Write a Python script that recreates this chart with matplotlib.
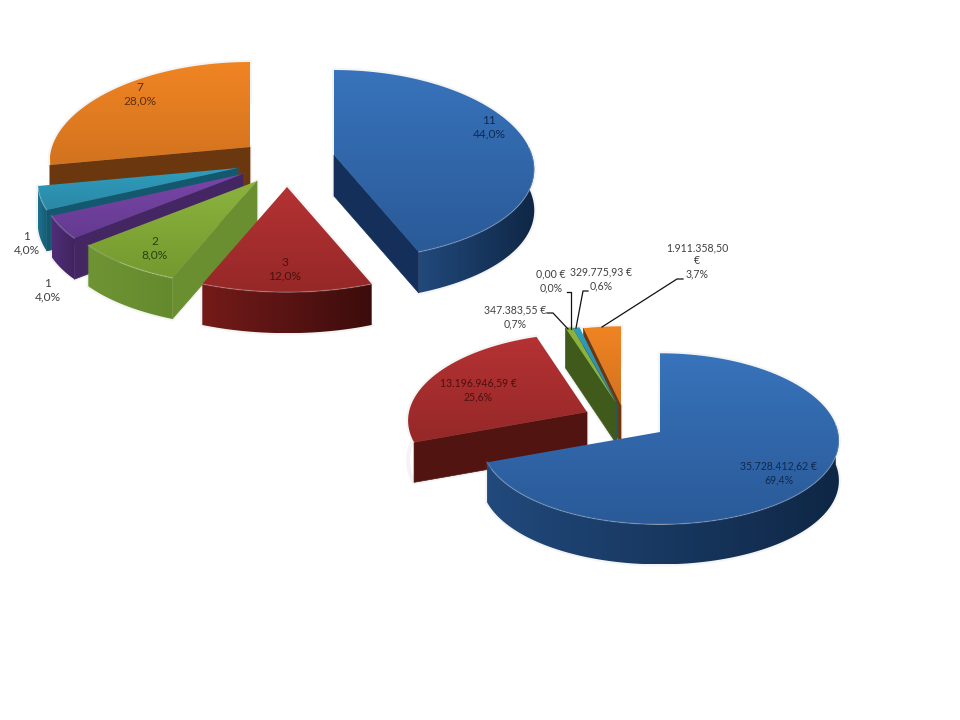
import numpy as np
import matplotlib
matplotlib.use("Agg")
import matplotlib.pyplot as plt
from matplotlib.colors import LinearSegmentedColormap
from matplotlib.patches import Polygon

plt.rcParams["font.family"] = ["Lato", "DejaVu Sans"]

# --- data -------------------------------------------------------------------
count_values = [11, 3, 2, 1, 1, 7]
count_labels = ["11\n44,0%", "3\n12,0%", "2\n8,0%", "1\n4,0%", "1\n4,0%", "7\n28,0%"]

amount_values = [35728412.62, 13196946.59, 347383.55, 0.00, 329775.93, 1911358.50]
amount_labels = ["35.728.412,62 €\n69,4%", "13.196.946,59 €\n25,6%", "347.383,55 €\n0,7%",
                 "0,00 €\n0,0%", "329.775,93 €\n0,6%", "1.911.358,50\n€\n3,7%"]

# --- styling, one row per slice: top light/dark, wall light/dark, cut face ---
BLUE = ("#3873bb", "#2a5a98", "#21497b", "#0f2746", "#14305a")
RED = ("#b53233", "#962828", "#741b19", "#3c0c0c", "#521410")
GREEN = ("#8cb23d", "#749a30", "#6f9434", "#648a2e", "#6a8f30")
PURPLE = ("#7a46a8", "#643a90", "#4f2d78", "#40245f", "#432662")
TEAL = ("#2f9dbc", "#2a88a6", "#1d7490", "#155a73", "#14586f")
ORANGE = ("#f08423", "#d3731f", "#7a4012", "#5e300c", "#6b370f")
OLIVE = ("#8cb23d", "#8cb23d", "#41591b", "#3a5018", "#3f5a1a")

count_styles = [BLUE, RED, GREEN, PURPLE, TEAL, ORANGE]
amount_styles = [BLUE, RED, OLIVE, OLIVE, TEAL, ORANGE]
text_colors = {BLUE: "#0f2a50", RED: "#4d1010", GREEN: "#2c3f10", ORANGE: "#5a3010"}

# layout of the two pies, in pixels
COUNT_APEX = [(334, 155), (287, 187), (257, 181), (243, 174), (238, 168), (250, 147)]
AMOUNT_APEX = [(660, 432), (587, 412), (616, 403), (616, 403), (617, 404), (621, 405)]
COUNT_PIE = dict(rx=198, ry=94, k=0.106, kx=0.15, depth=41, wall_end=262)
AMOUNT_PIE = dict(rx=178, ry=85, k=0.08, kx=0.10, depth=40, wall_end=250)

COUNT_LABEL_XY = [(489, 127), (285, 269), (155, 248), (48, 290), (27, 243), (140, 94)]
AMOUNT_LABEL_XY = [(779, 473), (478, 390), (515, 317), (551, 281), (601, 279), (697, 261)]

# elbow leader lines for the small slices of the second pie
LEADERS = [
    [(547, 313), (553, 313), (568, 329)],
    [(567, 292), (571, 292), (571, 329)],
    [(588, 291), (583, 291), (576, 328)],
    [(683, 279), (677, 279), (602, 327)],
]


def project(apex, angle, pie):
    """Screen position of a rim point, angle in degrees clockwise from the top."""
    a = np.radians(angle)
    u, v = np.sin(a), -np.cos(a)
    sx = 1 / (1 - pie["kx"] * v)
    sy = 1 / (1 - pie["k"] * v)
    return np.column_stack([apex[0] + pie["rx"] * u * sx, apex[1] + pie["ry"] * v * sy])


def fill_gradient(ax, verts, c0, c1, vertical, z):
    """Fill a polygon with a linear gradient, clipped image under the polygon."""
    verts = np.asarray(verts)
    x0, y0 = verts.min(axis=0)
    x1, y1 = verts.max(axis=0)
    ramp = np.linspace(0, 1, 64)
    grad = ramp[:, None] if vertical else ramp[None, :]
    cmap = LinearSegmentedColormap.from_list("g", [c0, c1])
    im = ax.imshow(grad, cmap=cmap, extent=(x0, x1, y1, y0), origin="upper",
                   aspect="auto", zorder=z, vmin=0, vmax=1, interpolation="bilinear")
    patch = Polygon(verts, closed=True, transform=ax.transData, fc="none", ec="none")
    ax.add_patch(patch)
    im.set_clip_path(patch)


def draw_slice(ax, apex, a0, a1, style, pie, z):
    top_hi, top_lo, wall_hi, wall_lo, cut = style
    apex_pt = np.array(apex, float)
    down = np.array([0, pie["depth"]])
    rim = project(apex, np.linspace(a0, a1, 120), pie)

    # soft shadow round the whole slice
    outline = np.vstack([apex_pt, rim, rim[::-1] + down, apex_pt + down])
    ax.add_patch(Polygon(outline, closed=True, fc="none", ec="#707070", lw=3,
                         alpha=0.07, zorder=z, joinstyle="round"))

    # cut faces that look towards the viewer
    if 180 <= a0 < 360:
        p = rim[0]
        ax.add_patch(Polygon([apex_pt, p, p + down, apex_pt + down], closed=True,
                             fc=cut, ec=cut, lw=0.5, zorder=z + 0.1))
    if 0 < a1 <= 180:
        p = rim[-1]
        ax.add_patch(Polygon([apex_pt, p, p + down, apex_pt + down], closed=True,
                             fc=cut, ec=cut, lw=0.5, zorder=z + 0.1))

    # outer wall, front part of the rim only
    lo, hi = max(a0, 85), min(a1, pie["wall_end"])
    if hi > lo:
        front = project(apex, np.linspace(lo, hi, 120), pie)
        wall = np.vstack([front, front[::-1] + down])
        # angles run right to left along the front, so the left end is c0
        fill_gradient(ax, wall, wall_hi, wall_lo, False, z + 0.2)
        ax.plot(front[:, 0], front[:, 1], color="white", alpha=0.2, lw=1.0, zorder=z + 0.35)

    top = np.vstack([apex_pt, rim])
    fill_gradient(ax, top, top_hi, top_lo, True, z + 0.3)


def draw_pie(ax, values, apexes, styles, pie, order, z):
    edges = np.concatenate([[0], np.cumsum(values)]) / np.sum(values) * 360
    for i in order:
        if edges[i + 1] - edges[i] > 0:
            draw_slice(ax, apexes[i], edges[i], edges[i + 1], styles[i], pie, z)
            z += 1
    return z


fig = plt.figure(figsize=(9.6, 7.2), dpi=100, facecolor="white")
ax = fig.add_axes([0, 0, 1, 1])

z = draw_pie(ax, count_values, COUNT_APEX, count_styles, COUNT_PIE, [5, 4, 3, 2, 1, 0], 1)
draw_pie(ax, amount_values, AMOUNT_APEX, amount_styles, AMOUNT_PIE, [1, 5, 4, 2, 0], z)

for pts in LEADERS:
    xs, ys = zip(*pts)
    ax.plot(xs, ys, color="#111111", lw=0.9, zorder=40)

for text, xy, style in zip(count_labels, COUNT_LABEL_XY, count_styles):
    ax.text(xy[0], xy[1], text, ha="center", va="center", fontsize=8.6, linespacing=1.3,
            color=text_colors.get(style, "#404040"), zorder=50)
for text, xy, style in zip(amount_labels, AMOUNT_LABEL_XY, amount_styles):
    color = text_colors[style] if style in (BLUE, RED) else "#404040"
    ax.text(xy[0], xy[1], text, ha="center", va="center", fontsize=7.6, linespacing=1.25,
            color=color, zorder=50)

ax.set_xlim(0, 960)
ax.set_ylim(720, 0)
ax.axis("off")
fig.savefig("out.png", dpi=100, facecolor="white")
